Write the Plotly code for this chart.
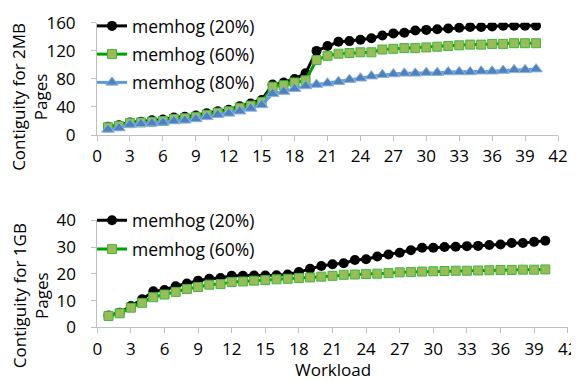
import plotly.graph_objects as go

# The page places the figure 8px from the top-left corner, so work in
# reference pixel coordinates and subtract that offset.
REF_W, REF_H = 579, 381
OFF = 8
W, H = REF_W - OFF, REF_H - OFF


def px_x(x):
    return (x - OFF) / W


def px_y(y):
    return 1 - (y - OFF) / H


workload = list(range(1, 41))

top_20 = [12, 14, 18, 19, 21, 22, 25, 26, 28, 31, 34, 36, 41, 45, 50, 72, 75, 80, 88, 120,
          127, 133, 134, 136, 138, 142, 145, 146, 149, 150, 151, 152, 153, 154, 154, 155, 156, 156, 156, 156]
top_60 = [11, 13, 17, 18, 19, 20, 23, 24, 26, 29, 32, 34, 39, 42, 47, 69, 71, 75, 78, 107,
          113, 116, 117, 118, 118, 122, 123, 124, 124, 125, 126, 127, 128, 129, 129, 130, 130, 131, 131, 131]
top_80 = [8, 10, 15, 16, 17, 18, 20, 21, 23, 26, 29, 31, 34, 38, 43, 59, 62, 66, 70, 72,
          74, 76, 79, 81, 84, 86, 87, 88, 88, 89, 89, 90, 90, 90, 91, 91, 92, 93, 93, 94]

bot_20 = [4.5, 5.5, 8, 10.5, 13.5, 14, 15.4, 16.4, 17.5, 18.2, 18.5, 19.3, 19.3, 19.4, 19.4, 19.5, 19.8, 20.7, 21.9, 23,
          23.6, 24, 25.2, 25.5, 26.5, 27.3, 27.9, 28.9, 29.8, 29.8, 30.1, 30.2, 30.4, 30.5, 30.8, 31, 31.6, 31.6, 32, 32.4]
bot_60 = [4.3, 5.3, 7.4, 9.2, 11.3, 12.3, 13.3, 14.4, 15.1, 16, 16.2, 17, 17.2, 17.5, 17.7, 18, 18.2, 18.5, 18.7, 19,
          19.3, 19.7, 19.8, 20, 20.1, 20.3, 20.6, 20.7, 20.9, 21, 21.1, 21.2, 21.2, 21.3, 21.4, 21.5, 21.5, 21.6, 21.6, 21.7]

names = ["memhog (20%)", "memhog (60%)", "memhog (80%)"]
x_ticks = list(range(0, 43, 3))

FONT = "Open Sans"
FS = 17

styles = [
    dict(line=dict(color="black", width=3),
         marker=dict(symbol="circle", size=10, color="black")),
    dict(line=dict(color="#00A000", width=3),
         marker=dict(symbol="square", size=9, color="#9BBB59", line=dict(color="#3DB83D", width=1))),
    dict(line=dict(color="#5B9BD5", width=3),
         marker=dict(symbol="triangle-up", size=11, color="#4F81BD", line=dict(color="#8DB3E2", width=1))),
]

fig = go.Figure()
for i, ys in enumerate([top_20, top_60, top_80]):
    fig.add_trace(go.Scatter(x=workload, y=ys, mode="lines+markers", name=names[i],
                             xaxis="x", yaxis="y", legend="legend", legendgroup=f"t{i}",
                             **styles[i]))
for i, ys in enumerate([bot_20, bot_60]):
    fig.add_trace(go.Scatter(x=workload, y=ys, mode="lines+markers", name=names[i],
                             xaxis="x2", yaxis="y2", legend="legend2", legendgroup=f"b{i}",
                             **styles[i]))

axis_common = dict(showgrid=False, zeroline=False, showline=True, linecolor="#BFBFBF", linewidth=1,
                   ticks="outside", ticklen=5, tickcolor="#BFBFBF", tickwidth=1,
                   ticklabeloverflow="allow",
                   tickfont=dict(family=FONT, size=FS, color="black"), automargin=False)
x_common = dict(axis_common, ticklabelstandoff=1)
y_common = dict(axis_common, ticklabelstandoff=12)

fig.update_layout(
    width=W, height=H,
    margin=dict(l=0, r=0, t=0, b=0),
    paper_bgcolor="white", plot_bgcolor="white",
    font=dict(family=FONT, size=FS, color="black"),
    xaxis=dict(domain=[px_x(97), px_x(558)], range=[0, 42], tickvals=x_ticks, anchor="y", **x_common),
    yaxis=dict(domain=[px_y(131.7), px_y(18)], range=[0, 160], dtick=40, anchor="x", **y_common),
    xaxis2=dict(domain=[px_x(97.3), px_x(567.7)], range=[0, 42], tickvals=x_ticks, anchor="y2", **x_common),
    yaxis2=dict(domain=[px_y(326.7), px_y(218.3)], range=[0, 40], dtick=10, anchor="x2", **y_common),
    legend=dict(x=px_x(92), y=px_y(2.5), xanchor="left", yanchor="top", bgcolor="rgba(0,0,0,0)",
                font=dict(family=FONT, size=17.5), tracegroupgap=2.5),
    legend2=dict(x=px_x(92), y=px_y(200), xanchor="left", yanchor="top", bgcolor="rgba(0,0,0,0)",
                 font=dict(family=FONT, size=17.5), tracegroupgap=3),
    showlegend=True,
    annotations=[
        dict(text="Contiguity for 2MB<br>Pages", xref="paper", yref="paper", x=px_x(30), y=px_y(93),
             xanchor="center", yanchor="middle", textangle=-90, showarrow=False,
             font=dict(family=FONT, size=FS, color="black")),
        dict(text="Contiguity for 1GB<br>Pages", xref="paper", yref="paper", x=px_x(30), y=px_y(295),
             xanchor="center", yanchor="middle", textangle=-90, showarrow=False,
             font=dict(family=FONT, size=FS, color="black")),
        dict(text="Workload", xref="paper", yref="paper", x=px_x(333), y=px_y(369.5),
             xanchor="center", yanchor="middle", showarrow=False,
             font=dict(family=FONT, size=FS, color="black")),
    ],
)

fig.write_html("out.html")
